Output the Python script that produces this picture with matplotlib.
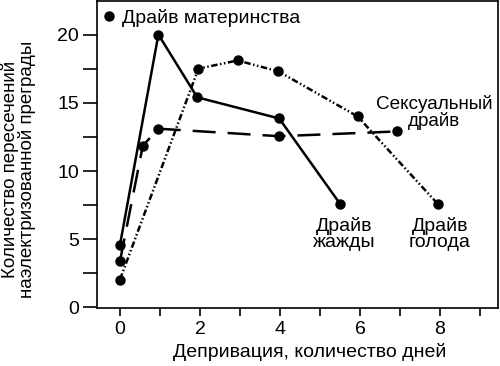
import matplotlib
matplotlib.use("Agg")
import matplotlib.pyplot as plt
from matplotlib.lines import Line2D
from matplotlib.ticker import MultipleLocator

# Days of deprivation and number of grid crossings for each drive
thirst_days = [0, 0.96, 1.93, 3.98, 5.5]
thirst_vals = [4.6, 20.0, 15.4, 13.85, 7.6]

sex_days = [0, 0.57, 0.96, 3.98, 6.93]
sex_vals = [3.4, 11.85, 13.1, 12.55, 12.9]

hunger_days = [0, 1.96, 2.94, 3.96, 5.94, 7.94]
hunger_vals = [2.05, 17.5, 18.1, 17.3, 14.0, 7.6]

plt.rcParams['font.family'] = ['Liberation Sans', 'DejaVu Sans']
plt.rcParams['font.size'] = 14

fig = plt.figure(figsize=(5, 3.66), dpi=100)
ax = fig.add_axes([0.194, 0.158, 0.802, 0.839])

kw = dict(color='black', lw=1.8, marker='o', ms=6.5)
ax.plot(thirst_days, thirst_vals, linestyle='-', **kw)
ax.plot(sex_days, sex_vals, linestyle=(0, (9.2, 4.8)), **kw)
ax.plot(hunger_days, hunger_vals, linestyle=(0, (2.6, 1.0, 0.6, 1.0, 0.6, 1.0)), **kw)

# series labels
ax.text(7.86, 14.3, 'Сексуальный\nдрайв', ha='center', va='center',
        linespacing=0.95, fontsize=13.6)
ax.text(5.6, 5.4, 'Драйв\nжажды', ha='center', va='center', linespacing=0.95)
ax.text(8.0, 5.4, 'Драйв\nголода', ha='center', va='center', linespacing=0.95)

handle = Line2D([], [], color='black', marker='o', ms=6.5, linestyle='none')
ax.legend([handle], ['Драйв материнства'], loc='upper left', frameon=False,
          bbox_to_anchor=(0.0, 0.98), handletextpad=0.2, borderaxespad=0.0,
          handlelength=1.0, borderpad=0.1, fontsize=14)

ax.set_xlim(-0.575, 9.45)
ax.set_ylim(-0.05, 22.45)
ax.xaxis.set_major_locator(MultipleLocator(2))
ax.xaxis.set_minor_locator(MultipleLocator(1))
ax.yaxis.set_major_locator(MultipleLocator(5))
ax.yaxis.set_minor_locator(MultipleLocator(2.5))
ax.tick_params(which='both', direction='out', width=1.2, labelsize=14)
ax.tick_params(axis='x', which='both', length=6, pad=3)
ax.tick_params(axis='y', which='both', length=10, pad=3)
for s in ax.spines.values():
    s.set_linewidth(1.2)

ax.set_xlabel('Депривация, количество дней', fontsize=14)
ax.xaxis.set_label_coords(0.53, -0.115)
ax.set_ylabel('Количество пересечений\nнаэлектризованной преграды',
              fontsize=13.5, linespacing=0.95)
ax.yaxis.set_label_coords(-0.152, 0.453)

fig.savefig('out.png', dpi=100)
